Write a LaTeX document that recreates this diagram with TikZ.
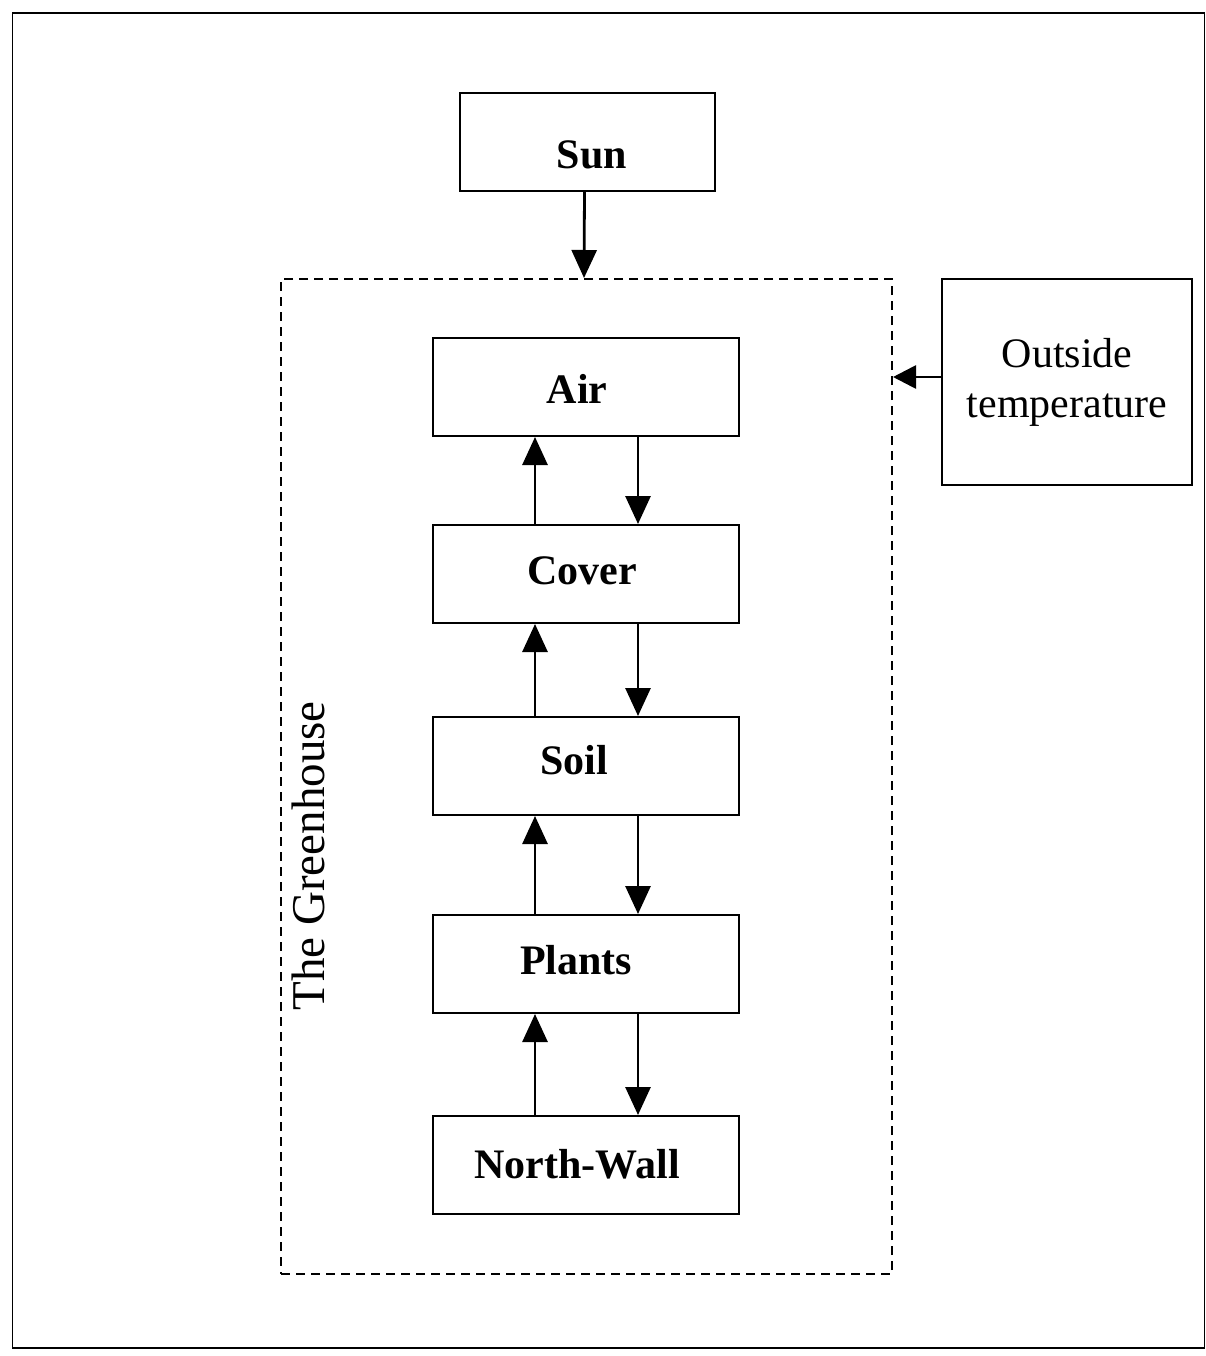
\documentclass[tikz,border=0pt]{standalone}
\usepackage{fontspec}
\setmainfont{Liberation Serif}
\usetikzlibrary{arrows.meta}
\begin{document}
\begin{tikzpicture}[x=1pt,y=-1pt,
  box/.style={draw,line width=2pt,minimum width=306pt,minimum height=98pt,inner sep=0pt},
  lbl/.style={font=\fontsize{42}{48}\selectfont\bfseries,inner sep=0pt},
  arr/.style={line width=2.8pt,-{Triangle[width=25pt,length=28pt]}},
]
\useasboundingbox (0,0) rectangle (1206,1356);
\node[draw,line width=1.8pt,minimum width=1192pt,minimum height=1335pt,inner sep=0pt] (frame) at (608.5,680.5) {};
\node[box,minimum width=255pt,label={[lbl,xshift=4.5pt,yshift=-13pt]center:Sun}] (sun) at (587.5,142) {};
\node[draw,dashed,dash pattern=on 9pt off 6pt,line width=2pt,minimum width=611pt,minimum height=995pt,inner sep=0pt] (gh) at (586.5,776.5) {};
\node[draw,line width=2pt,minimum width=250pt,minimum height=206pt,inner sep=0pt,align=center,
  font=\fontsize{42}{50}\selectfont] (out) at (1067,382) {Outside\\temperature};
\node[rotate=90,font=\fontsize{47}{52}\selectfont] (ghl) at (308,856) {The Greenhouse};
\node[box,label={[lbl,xshift=-9pt,yshift=-2pt]center:Air}] (air) at (586,387) {};
\node[box,label={[lbl,xshift=-4pt,yshift=3pt]center:Cover}] (cover) at (586,574) {};
\node[box,label={[lbl,xshift=-12pt,yshift=6pt]center:Soil}] (soil) at (586,766) {};
\node[box,label={[lbl,xshift=-10pt,yshift=4pt]center:Plants}] (plants) at (586,964) {};
\node[box,label={[lbl,xshift=-9pt,yshift=1pt]center:North-Wall}] (wall) at (586,1165) {};
\draw[arr] ([xshift=-3pt]sun.south) -- ([xshift=-2.5pt]gh.north);
\draw[arr,-{Triangle[width=23pt,length=23pt]}] ([yshift=5pt]out.west) -- ([yshift=5pt]out.west -| gh.east);
\foreach \a/\b in {cover/air,soil/cover,plants/soil,wall/plants}{
  \draw[arr] ([xshift=-51pt]\a.north) -- ([xshift=-51pt]\b.south);
  \draw[arr] ([xshift=52pt]\b.south) -- ([xshift=52pt]\a.north);
}
\end{tikzpicture}
\end{document}
